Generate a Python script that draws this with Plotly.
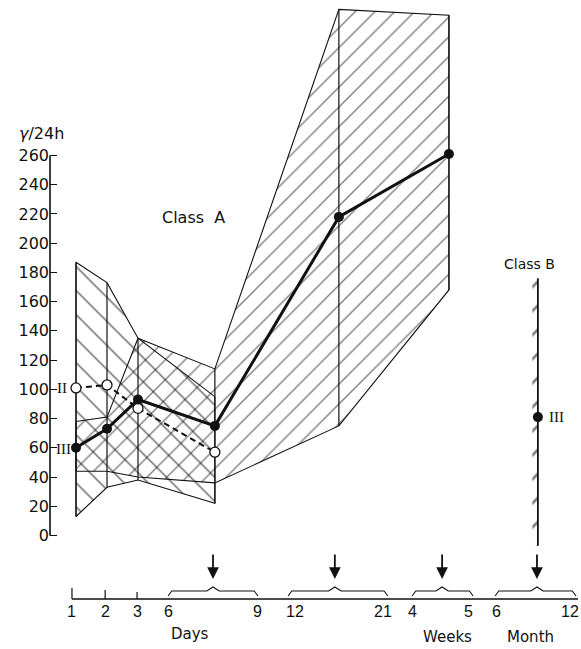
import plotly.graph_objects as go

# ---------------- data ----------------
categories = ["Day 1", "Day 2", "Day 3", "Days 6-9", "Days 12-21", "Weeks 4-5"]
x_pos = [1, 2, 3, 5.48, 9.48, 13.03]          # position on the (non-linear) time scale

median_III = [60, 73, 93, 75, 218, 261]        # filled points, solid line
median_II = [101, 103, 87, 57]                 # open points, dashed line (first 4 groups)

band1_low = [13, 33, 38, 22]                   # "\" hatched range (first 4 groups)
band1_high = [187, 173, 135, 95]
band2_low = [44, 44, 40, 36, 75, 168]          # "/" hatched range (all groups)
band2_high = [78, 81, 135, 114, 360, 356]

classB_x = 15.9
classB_III = 81
classB_range = [-7, 176]

y_ticks = list(range(0, 261, 20))

bottom_labels = ["1", "2", "3", "6", "9", "12", "21", "4", "5", "6", "12"]
bottom_label_pos = [0.87, 1.94, 2.97, 3.97, 6.84, 8.06, 10.9, 11.87, 13.65, 14.58, 16.94]
brace_ranges = [(3.97, 6.87), (7.84, 11.06), (11.84, 13.81), (14.52, 17.13)]
arrow_pos = [5.42, 9.35, 12.81, 15.87]
group_names = ["Days", "Weeks", "Month"]

# ---------------- layout helpers ----------------
W, H = 581, 649
ML = 50
def X(px):  # pixel -> data x
    return (px - 76) / 31 + 1
def Y(py):  # pixel -> data y
    return (535.5 - py) / 1.4615
def PX(px):  # pixel -> paper x
    return (px - ML) / (W - ML)

INK = "#111111"
fig = go.Figure()

# hatched bands
def band(xs, lo, hi, shape, size):
    fig.add_trace(go.Scatter(
        x=list(xs) + list(xs)[::-1] + [xs[0]],
        y=list(hi) + list(lo)[::-1] + [hi[0]],
        mode="lines", fill="toself",
        fillcolor="rgba(0,0,0,0)",
        fillpattern=dict(shape=shape, fgcolor="#000000", bgcolor="rgba(0,0,0,0)",
                         size=size, solidity=0.1),
        line=dict(color=INK, width=1.1), hoverinfo="skip"))

band(x_pos[:4], band1_low, band1_high, "\\", 17)
band(x_pos, band2_low, band2_high, "/", 14)

# vertical range lines at each group
vx, vy = [], []
for i, xp in enumerate(x_pos):
    lows = [band2_low[i]] + ([band1_low[i]] if i < len(band1_low) else [])
    highs = [band2_high[i]] + ([band1_high[i]] if i < len(band1_high) else [])
    vx += [xp, xp, None]
    vy += [min(lows), max(highs), None]
fig.add_trace(go.Scatter(x=vx, y=vy, mode="lines", line=dict(color=INK, width=1.2),
                         hoverinfo="skip"))

# Class B range with tick marks
fig.add_trace(go.Scatter(
    x=[classB_x - 0.18, classB_x, classB_x, classB_x - 0.18, classB_x - 0.18],
    y=[classB_range[0], classB_range[0], classB_range[1], classB_range[1], classB_range[0]],
    mode="lines", fill="toself", fillcolor="rgba(0,0,0,0)",
    fillpattern=dict(shape="/", fgcolor="#000000", bgcolor="rgba(0,0,0,0)", size=17, solidity=0.16),
    line=dict(width=0), hoverinfo="skip"))
fig.add_trace(go.Scatter(x=[classB_x, classB_x], y=classB_range, mode="lines",
                         line=dict(color=INK, width=1.8), hoverinfo="skip"))

# II dashed series
fig.add_trace(go.Scatter(x=x_pos[:4], y=median_II, mode="lines+markers",
                         line=dict(color=INK, width=2, dash="6px,4px"),
                         marker=dict(size=10, color="white", line=dict(color=INK, width=1.3)),
                         hoverinfo="skip"))
# III solid series
fig.add_trace(go.Scatter(x=x_pos, y=median_III, mode="lines+markers",
                         line=dict(color=INK, width=3),
                         marker=dict(size=10, color=INK), hoverinfo="skip"))
fig.add_trace(go.Scatter(x=[classB_x], y=[classB_III], mode="markers",
                         marker=dict(size=10, color=INK), hoverinfo="skip"))

# bottom time axis
y_axis_b = Y(599)
fig.add_trace(go.Scatter(x=[X(72), X(578)], y=[y_axis_b, y_axis_b], mode="lines",
                         line=dict(color=INK, width=1.5), hoverinfo="skip"))
tx, ty = [], []
for p, top in zip(bottom_label_pos[:3], [Y(588), Y(590), Y(592)]):
    tx += [p, p, None]
    ty += [y_axis_b, top, None]
fig.add_trace(go.Scatter(x=tx, y=ty, mode="lines", line=dict(color=INK, width=1.2),
                         hoverinfo="skip"))
bx, by = [], []
for (a, b), c in zip(brace_ranges, arrow_pos):
    bx += [a, a + 0.12, c - 0.2, c, c + 0.2, b - 0.12, b, None]
    by += [Y(596), Y(591), Y(591), Y(587), Y(591), Y(591), Y(596), None]
fig.add_trace(go.Scatter(x=bx, y=by, mode="lines", line=dict(color=INK, width=1.1),
                         hoverinfo="skip"))

ann = []
for c in arrow_pos:
    ann.append(dict(x=c, y=Y(579), ax=c, ay=Y(553), xref="x", yref="y", axref="x", ayref="y",
                    showarrow=True, arrowhead=2, arrowsize=1.3, arrowwidth=1.8, arrowcolor=INK,
                    text=""))
for lab, p in zip(bottom_labels, bottom_label_pos):
    ann.append(dict(x=p, y=Y(611), xref="x", yref="y", text=lab, showarrow=False,
                    xanchor="center", yanchor="middle",
                    font=dict(family="Liberation Sans Narrow, Liberation Sans", size=16, color=INK)))
for name, pxx, pyy in zip(group_names, [190, 447, 530], [634, 637, 637]):
    ann.append(dict(x=X(pxx), y=Y(pyy), xref="x", yref="y", text=name, showarrow=False,
                    xanchor="center", yanchor="middle",
                    font=dict(family="DejaVu Sans", size=15, color=INK)))

ann += [
    dict(x=PX(41), y=1 - 134 / H, xref="paper", yref="paper", text="<i>γ</i>/24h",
         showarrow=False, xanchor="center", yanchor="middle",
         font=dict(family="DejaVu Sans", size=16, color=INK)),
    dict(x=X(193), y=Y(217), xref="x", yref="y", text="Class  A", showarrow=False,
         xanchor="center", yanchor="middle",
         font=dict(family="DejaVu Sans", size=16, color=INK)),
    dict(x=X(529), y=Y(264), xref="x", yref="y", text="Class B", showarrow=False,
         xanchor="center", yanchor="middle",
         font=dict(family="DejaVu Sans", size=14, color=INK)),
    dict(x=PX(62), y=1 - 388 / H, xref="paper", yref="paper", text="II", showarrow=False,
         xanchor="center", yanchor="middle",
         font=dict(family="Liberation Serif", size=15, color=INK)),
    dict(x=PX(63), y=1 - 449 / H, xref="paper", yref="paper", text="III", showarrow=False,
         xanchor="center", yanchor="middle",
         font=dict(family="Liberation Serif", size=15, color=INK)),
    dict(x=X(556), y=Y(417), xref="x", yref="y", text="III", showarrow=False,
         xanchor="center", yanchor="middle",
         font=dict(family="Liberation Serif", size=15, color=INK)),
]

fig.update_layout(
    width=W, height=H, margin=dict(l=ML, r=0, t=0, b=0),
    paper_bgcolor="white", plot_bgcolor="white", showlegend=False,
    annotations=ann,
    shapes=[dict(type="line", xref="paper", yref="y", x0=0, x1=0, y0=0, y1=260,
                 line=dict(color=INK, width=1.6))],
    xaxis=dict(range=[X(ML), X(W)], showgrid=False, zeroline=False, showline=False,
               showticklabels=False, ticks=""),
    yaxis=dict(range=[Y(H), Y(0)], tickvals=y_ticks, ticks="inside", ticklen=7,
               tickwidth=1.4, tickcolor=INK, showgrid=False, zeroline=False, showline=False,
               tickfont=dict(family="DejaVu Sans", size=16, color=INK)),
)

fig.write_html("out.html")
